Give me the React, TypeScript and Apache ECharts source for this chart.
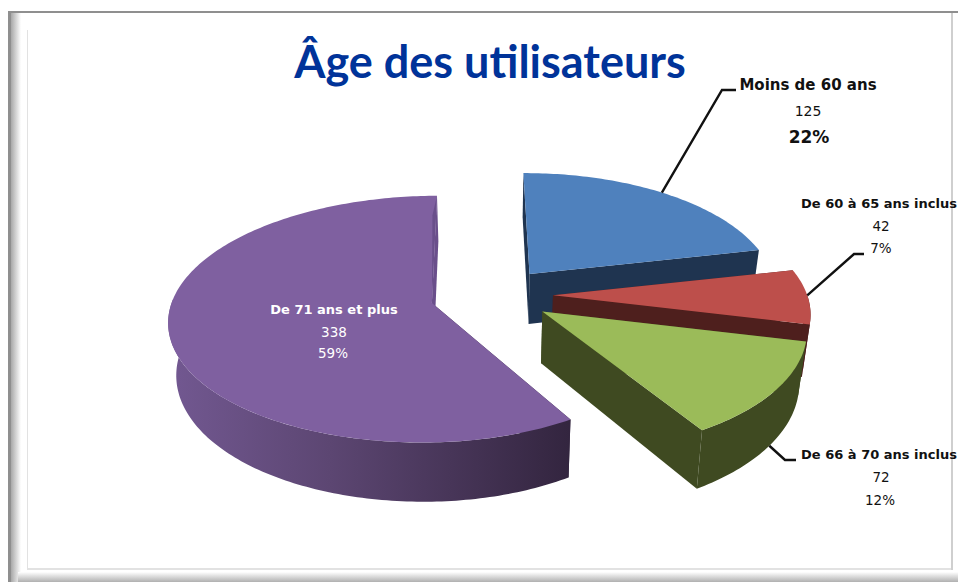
import React, { useEffect, useRef } from "react";
import * as echarts from "echarts";

const titleText = "Âge des utilisateurs";
const categories = ["Moins de 60 ans", "De 60 à 65 ans inclus", "De 66 à 70 ans inclus", "De 71 ans et plus"];
const values = [125, 42, 72, 338];
const percents = ["22%", "7%", "12%", "59%"];

const topColors = ["#4f81bd", "#bd4f4b", "#9bbb59", "#7f60a0"];
const wallColors = ["#1f3450", "#4e1f1d", "#3f4a21", "#33253f"];

// label layout, kept apart from the data
const labelCenters = [
  { x: [808, 808, 809], y: [85, 111, 137], size: [15, 14, 17], weight: [700, 400, 700], fill: "#111" },
  { x: [879, 881, 881], y: [203, 226, 248], size: [13, 13.5, 13.5], weight: [700, 400, 400], fill: "#111" },
  { x: [879, 881, 880], y: [454, 477, 500], size: [13, 13.5, 13.5], weight: [700, 400, 400], fill: "#111" },
  { x: [334, 334, 333], y: [309, 332, 353], size: [13, 13.5, 13.5], weight: [700, 400, 400], fill: "#fff" },
];
const leaderTails: number[][][] = [
  [[722, 90], [736, 90]],
  [[854, 254], [864, 254]],
  [[785, 460], [796, 460]],
  [],
];
const leaderHeads: ([number, number] | null)[] = [
  [38, 0],
  [90, 0],
  [125.7, 1],
  null,
];

// projection of the 3D pie
const CX = 493, CY = 295, R = 262, K = 0.455, PERSP = 0.13, HEIGHT = 51, BOTTOM_SCALE = 0.975;
const START_ANGLE = -0.5;
const explodeBy = [60, 60, 60, 63];
const xScaleRight = [0.947, 0.97, 0.98, 0.944];
const xScaleLeft = [1, 1, 1, 0.985];
const FONT = '"DejaVu Sans", sans-serif';

const total = values.reduce((a, b) => a + b, 0);
const rad = (d: number) => (d * Math.PI) / 180;

function sliceAngles(i: number) {
  let before = 0;
  for (let j = 0; j < i; j++) before += values[j];
  const a0 = START_ANGLE + (before / total) * 360;
  const a1 = a0 + (values[i] / total) * 360;
  return [a0, a1];
}

function project(i: number, angle: number, radius: number, down: number): number[] {
  const [a0, a1] = sliceAngles(i);
  const mid = rad((a0 + a1) / 2);
  const sa = Math.sin(rad(angle));
  const xScale = sa >= 0 ? xScaleRight[i] : xScaleLeft[i];
  const X = explodeBy[i] * Math.sin(mid) + radius * sa * xScale;
  const Y = -explodeBy[i] * Math.cos(mid) - radius * Math.cos(rad(angle));
  const s = 1 / (1 - (PERSP * Y) / R);
  const xs = down ? BOTTOM_SCALE : 1;
  return [CX + X * s * xs, CY + Y * K * s + down * HEIGHT * s];
}

function arcPoints(i: number, from: number, to: number, down: number) {
  const pts: number[][] = [];
  const n = Math.max(2, Math.ceil(Math.abs(to - from)));
  for (let k = 0; k <= n; k++) pts.push(project(i, from + ((to - from) * k) / n, R, down));
  return pts;
}

const frame = [
  { type: "rect", shape: { x: 0, y: 0, width: 958, height: 582 }, style: { fill: "#ffffff" } },
  { type: "rect", shape: { x: 8, y: 11, width: 950, height: 2 }, style: { fill: "#8f8f8f" } },
  { type: "rect", shape: { x: 8, y: 11, width: 3, height: 571 }, style: { fill: "#8f8f8f" } },
  {
    type: "rect",
    shape: { x: 11, y: 13, width: 10, height: 569 },
    style: { fill: new echarts.graphic.LinearGradient(0, 0, 1, 0, [{ offset: 0, color: "#a8a8a8" }, { offset: 1, color: "#ffffff" }]) },
  },
  {
    type: "rect",
    shape: { x: 18, y: 572, width: 940, height: 10 },
    style: { fill: new echarts.graphic.LinearGradient(0, 0, 0, 1, [{ offset: 0, color: "#ffffff" }, { offset: 1, color: "#b0b0b0" }]) },
  },
  { type: "rect", shape: { x: 27, y: 30, width: 1, height: 540 }, style: { fill: "#e2e2e2" } },
  { type: "rect", shape: { x: 27, y: 568, width: 925, height: 2 }, style: { fill: "#e2e2e2" } },
  { type: "rect", shape: { x: 951, y: 13, width: 2, height: 557 }, style: { fill: "#cfcfcf" } },
];

function renderSlice(params: any, api: any) {
  const i = params.dataIndex;
  const [a0, a1] = sliceAngles(i);
  const children: any[] = [];
  const apexT = project(i, 0, 0, 0);
  const apexB = project(i, 0, 0, 1);
  const poly = (points: number[][], fill: any) => ({ type: "polygon", shape: { points }, style: { fill, stroke: "none" } });

  const sideFill = i === 3
    ? new echarts.graphic.LinearGradient(170, 0, 570, 0, [
        { offset: 0, color: "#725891" },
        { offset: 0.4, color: "#5c4672" },
        { offset: 1, color: "#33253f" },
      ], true)
    : wallColors[i];

  // inner walls
  children.push(poly([apexT, project(i, a0, R, 0), project(i, a0, R, 1), apexB], wallColors[i]));
  children.push(poly([apexT, project(i, a1, R, 0), project(i, a1, R, 1), apexB], i === 3 ? "#6a4f8b" : wallColors[i]));
  // outer rim, only where it faces the viewer
  const v0 = Math.max(a0, 90), v1 = Math.min(a1, 272);
  if (v1 > v0) {
    children.push(poly([...arcPoints(i, v0, v1, 0), ...arcPoints(i, v1, v0, 1)], sideFill));
  }
  // top face
  children.push(poly([apexT, ...arcPoints(i, a0, a1, 0)], topColors[i]));
  if (i === 3) {
    children.push(poly([apexT, project(i, a1, R, 0), project(i, a1 - 1.1, R * 0.8, 0)], "#6a4f8b"));
  }

  // leader line
  const head = leaderHeads[i];
  if (head) {
    const start = project(i, head[0], R, head[1]);
    children.push({
      type: "polyline",
      shape: { points: [start, ...leaderTails[i]] },
      style: { stroke: "#111", lineWidth: 2.4, fill: "none" },
    });
  }

  // label
  const L = labelCenters[i];
  const lines = [categories[i], String(api.value(0)), percents[i]];
  lines.forEach((text, k) => {
    children.push({
      type: "text",
      style: {
        text,
        x: L.x[k],
        y: L.y[k],
        fill: L.fill,
        font: `${L.weight[k]} ${L.size[k]}px ${FONT}`,
        textAlign: "center",
        textVerticalAlign: "middle",
      },
    });
  });
  return { type: "group", children };
}

export default function App() {
  const ref = useRef<HTMLDivElement>(null);
  useEffect(() => {
    const chart = echarts.init(ref.current!, undefined, { renderer: "svg" });
    chart.setOption({
      animation: false,
      backgroundColor: "#ffffff",
      title: {
        text: titleText,
        left: 485,
        top: 33,
        textAlign: "center",
        textStyle: { color: "#003399", fontFamily: "Lato, sans-serif", fontWeight: 700, fontSize: 45 },
      },
      graphic: { elements: frame.map((f) => ({ ...f, z: -10, silent: true })) },
      series: [
        {
          type: "custom",
          coordinateSystem: "none",
          renderItem: renderSlice,
          data: values.map((v) => [v]),
          silent: true,
          clip: false,
          z: 5,
        },
      ],
    });
    return () => chart.dispose();
  }, []);
  return <div ref={ref} style={{ width: 958, height: 582, position: "absolute", left: 0, top: 0 }} />;
}
